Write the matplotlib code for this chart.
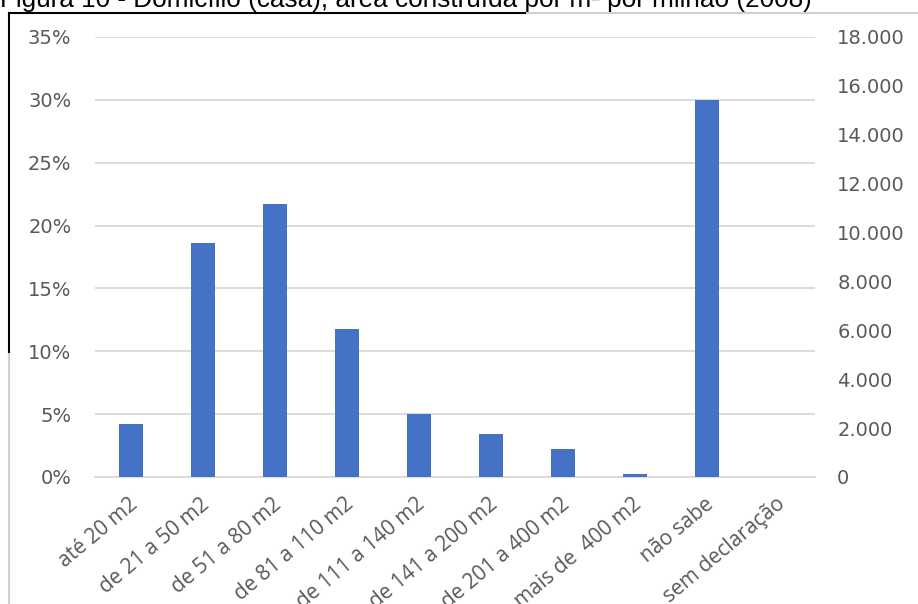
import matplotlib
matplotlib.use("Agg")
import matplotlib.pyplot as plt
from matplotlib.lines import Line2D
from matplotlib.ticker import FuncFormatter, MultipleLocator
from matplotlib.transforms import ScaledTranslation

categories = ["até 20 m2", "de 21 a 50 m2", "de 51 a 80 m2", "de 81 a 110 m2",
              "de 111 a 140 m2", "de 141 a 200 m2", "de 201 a 400 m2",
              "mais de  400 m2", "não sabe", "sem declaração"]
percent = [4.25, 18.6, 21.7, 11.75, 5.05, 3.45, 2.2, 0.25, 30.0, 0.0]
right_ticks = [0, 2000, 4000, 6000, 8000, 10000, 12000, 14000, 16000, 18000]
title = "Figura 10 - Domicílio (casa), área construída por m² por milhão (2008)"

W, H = 918, 604
fig = plt.figure(figsize=(W / 100, H / 100), dpi=100)
ax = fig.add_axes([95 / W, 1 - 477 / H, (815 - 95) / W, (477 - 37) / H])

x = list(range(len(categories)))
ax.bar(x, percent, width=0.32, color="#4472C4", zorder=3)
ax.set_xlim(-0.5, len(categories) - 0.5)
ax.set_ylim(0, 35)
ax.yaxis.set_major_locator(MultipleLocator(5))
ax.yaxis.set_major_formatter(FuncFormatter(lambda v, p: f"{int(round(v))}%"))
ax.grid(axis="y", color="#d9d9d9", linewidth=1.3, zorder=0)
ax.set_axisbelow(True)
for s in ["top", "right", "left"]:
    ax.spines[s].set_visible(False)
ax.spines["bottom"].set_color("#d9d9d9")
ax.spines["bottom"].set_linewidth(1.3)
ax.tick_params(axis="both", length=0, colors="#595959")
ax.tick_params(axis="y", pad=17, labelsize=14)
ax.set_xticks(x)
ax.set_xticklabels(categories, rotation=40, ha="right", va="top",
                   rotation_mode="anchor", fontsize=15, color="#595959")
ax.tick_params(axis="x", pad=12)
offset = ScaledTranslation(-3 / 100, 0 / 100, fig.dpi_scale_trans)
for lab in ax.get_xticklabels():
    lab.set_fontfamily("Open Sans")
    lab.set_transform(lab.get_transform() + offset)
for lab in ax.get_yticklabels():
    lab.set_fontfamily("DejaVu Sans")

ax2 = ax.twinx()
ax2.set_ylim(0, 18000)
ax2.set_yticks(right_ticks)
ax2.yaxis.set_major_formatter(FuncFormatter(lambda v, p: f"{int(v):,}".replace(",", ".")))
for s in ax2.spines.values():
    s.set_visible(False)
ax2.tick_params(axis="y", length=0, colors="#595959", labelsize=14, pad=16)
for lab in ax2.get_yticklabels():
    lab.set_fontfamily("DejaVu Sans")

# Title (cut at top) and frame lines
fig.text(0.0, 1 - 7 / H, title, ha="left", va="baseline",
         fontsize=18.8, family="Liberation Sans", color="black")
fig.add_artist(Line2D([525 / W, 1], [1 - 13 / H, 1 - 13 / H], color="#d0d0d0", lw=1.5,
                      transform=fig.transFigure))
fig.add_artist(Line2D([9 / W, 9 / W], [0, 1 - 352 / H], color="#d0d0d0", lw=1.5,
                      transform=fig.transFigure))
fig.add_artist(Line2D([9 / W, 525 / W], [1 - 13 / H, 1 - 13 / H], color="black", lw=1.5,
                      transform=fig.transFigure))
fig.add_artist(Line2D([9 / W, 9 / W], [1 - 352 / H, 1 - 13 / H], color="black", lw=1.5,
                      transform=fig.transFigure))

fig.savefig("out.png", dpi=100)
